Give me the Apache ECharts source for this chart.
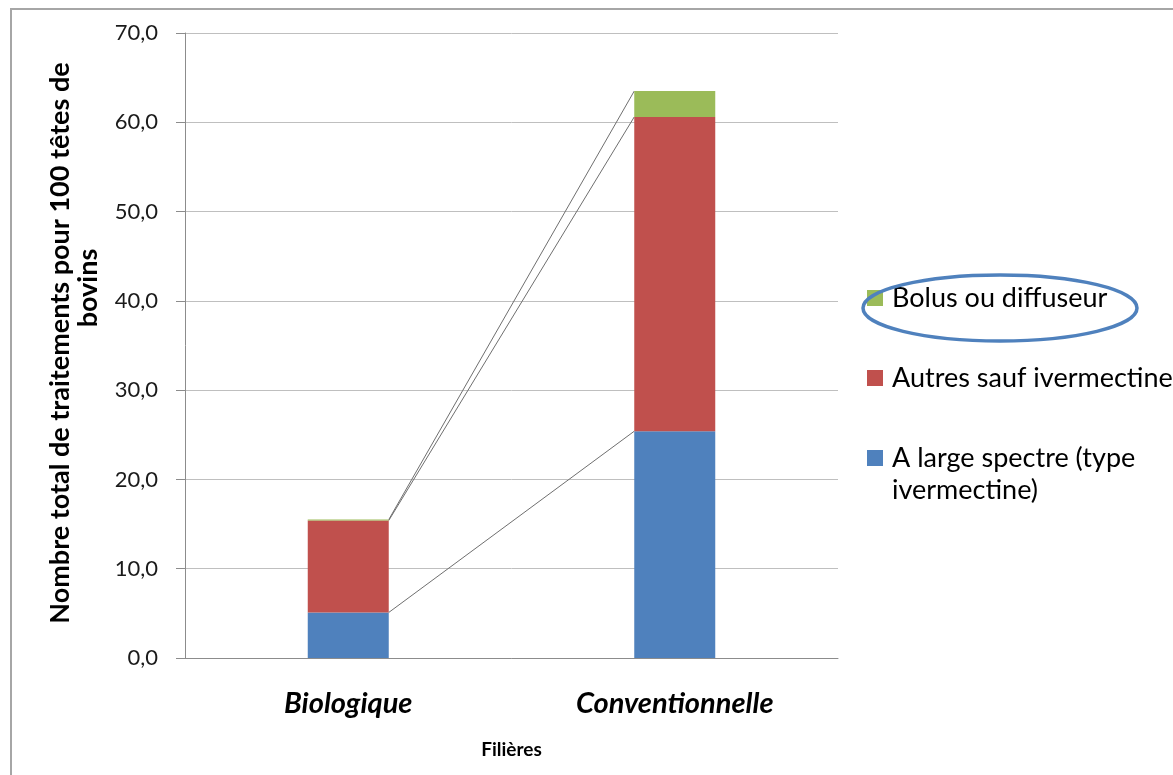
<!DOCTYPE html>
<html><head><meta charset="utf-8">
<script src="https://cdn.jsdelivr.net/npm/echarts@6/dist/echarts.min.js"></script>
<style>html,body{margin:0;padding:0;background:#fff}#c{width:1173px;height:775px}</style>
</head><body><div id="c"></div>
<script>
const categories = ['Biologique', 'Conventionnelle'];
const seriesNames = ['A large spectre (type ivermectine)', 'Autres sauf ivermectine', 'Bolus ou diffuseur'];
const largeSpectre = [5.1, 25.4];
const autres = [10.3, 35.2];
const bolus = [0.1, 2.9];
const yMin = 0, yMax = 70, yStep = 10;
const colors = ['#4f81bd', '#c0504d', '#9bbb59'];
const FONT = 'Lato';
const BAR_W = 81;

const values = [largeSpectre, autres, bolus];
// cumulative tops for the series lines
const cumul = [];
values.forEach((arr, i) => {
  cumul.push(arr.map((v, j) => (i > 0 ? cumul[i - 1][j] : 0) + v));
});
const seriesLineData = cumul.map(c => [0, c[0], c[1]]);

const chart = echarts.init(document.getElementById('c'));
const legendBase = {
  orient: 'vertical', left: 867, padding: 0, itemWidth: 16, itemHeight: 16, icon: 'rect',
  selectedMode: false,
  textStyle: { fontFamily: FONT, fontSize: 27, color: '#000', lineHeight: 32, padding: [0, 0, 0, 4] }
};
chart.setOption({
  animation: false,
  backgroundColor: '#fff',
  grid: { left: 185, right: 1173 - 838, top: 33, bottom: 775 - 658, containLabel: false },
  legend: [
    Object.assign({}, legendBase, { data: [seriesNames[2]], top: 282 }),
    Object.assign({}, legendBase, { data: [seriesNames[1]], top: 362 }),
    Object.assign({}, legendBase, {
      data: [seriesNames[0]], top: 410,
      formatter: n => '\u00a0\n' + n.replace('(type ', '(type\n')
    })
  ],
  xAxis: {
    type: 'category', data: categories,
    axisLine: { lineStyle: { color: '#8c8c8c', width: 1 } },
    axisTick: { show: false },
    axisLabel: { margin: 31, fontFamily: FONT, fontSize: 29, fontWeight: 'bold', fontStyle: 'italic', color: '#000' },
    name: 'Filières', nameLocation: 'middle', nameGap: 82,
    nameTextStyle: { fontFamily: FONT, fontSize: 19, fontWeight: 'bold', color: '#000' }
  },
  yAxis: {
    type: 'value', min: yMin, max: yMax, interval: yStep,
    axisLine: { show: true, lineStyle: { color: '#8c8c8c', width: 1 } },
    axisTick: { show: true, length: 9, lineStyle: { color: '#8c8c8c' } },
    splitLine: { lineStyle: { color: '#bfbfbf', width: 1 } },
    axisLabel: { margin: 27, fontFamily: FONT, fontSize: 22, color: '#1a1a1a',
      formatter: v => v.toFixed(1).replace('.', ',') }
  },
  series: [
    ...values.map((arr, i) => ({
      name: seriesNames[i], type: 'bar', stack: 'total', data: arr, barWidth: BAR_W,
      itemStyle: { color: colors[i] }, z: 3
    })),
    {
      type: 'custom', silent: true, z: 2, data: seriesLineData,
      encode: { x: 0, y: [1, 2] },
      renderItem: (params, api) => {
        const p0 = api.coord([0, api.value(1)]);
        const p1 = api.coord([1, api.value(2)]);
        const h = BAR_W / 2;
        return { type: 'line', shape: { x1: p0[0] + h, y1: p0[1], x2: p1[0] - h, y2: p1[1] },
          style: { stroke: '#6f6f6f', lineWidth: 1 } };
      }
    }
  ],
  graphic: [
    { type: 'rect', shape: { x: 11, y: 9, width: 1300, height: 900 }, style: { fill: 'none', stroke: '#a6a6a6', lineWidth: 2 }, silent: true, z: -1 },
    { type: 'text', x: 60, y: 343, rotation: Math.PI / 2,
      style: { text: 'Nombre total de traitements pour 100 têtes de', fontFamily: FONT, fontSize: 27, fontWeight: 'bold', fill: '#000', align: 'center', verticalAlign: 'middle' } },
    { type: 'text', x: 88, y: 288, rotation: Math.PI / 2,
      style: { text: 'bovins', fontFamily: FONT, fontSize: 27, fontWeight: 'bold', fill: '#000', align: 'center', verticalAlign: 'middle' } },
    { type: 'ellipse', shape: { cx: 1000, cy: 308, rx: 137, ry: 33 }, style: { fill: 'none', stroke: '#4f81bd', lineWidth: 3.5 }, z: 10, silent: true }
  ]
});
</script></body></html>
